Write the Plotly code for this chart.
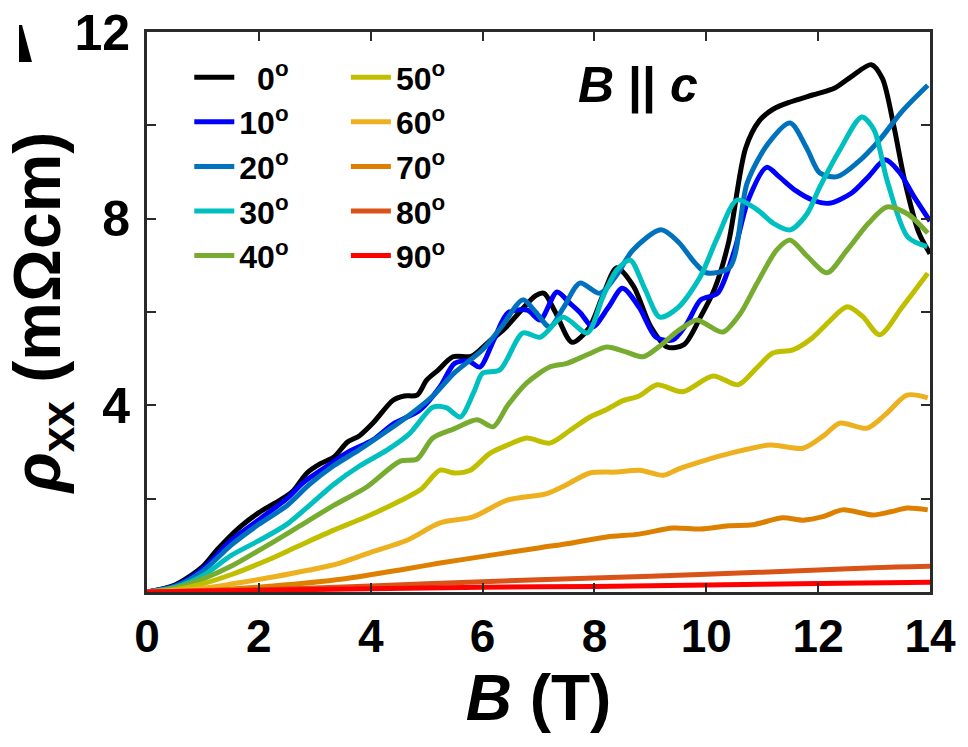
import plotly.graph_objects as go

# Magnetic field (T) and longitudinal resistivity rho_xx (mOhm cm) for each tilt angle
B_0 = [0, 0.5, 1.0, 1.25, 1.66, 2.0, 2.38, 2.6, 2.86, 3.1, 3.35, 3.58, 3.8, 4.04, 4.4, 4.6, 4.83, 5.0, 5.2,
       5.47, 5.8, 6.1, 6.4, 6.7, 6.95, 7.1, 7.3, 7.6, 7.9, 8.15, 8.4, 8.7, 9.0, 9.3, 9.6, 9.9, 10.15, 10.4,
       10.7, 10.95, 11.2, 11.5, 11.9, 12.3, 12.6, 12.95, 13.15, 13.35, 13.55, 13.8, 14.0]
rho_0 = [0, 0.15, 0.55, 0.9, 1.39, 1.7, 1.97, 2.15, 2.55, 2.75, 2.9, 3.21, 3.35, 3.62, 4.11, 4.2, 4.22, 4.54,
         4.75, 5.04, 5.05, 5.35, 5.65, 6.05, 6.35, 6.4, 6.0, 5.35, 5.65, 6.35, 6.95, 6.55, 5.7, 5.25, 5.3, 5.9,
         6.5, 7.5, 9.5, 10.1, 10.35, 10.5, 10.65, 10.8, 11.05, 11.3, 11.0, 10.0, 8.8, 7.7, 7.25]

B_10 = [0, 0.5, 1.0, 1.5, 2.0, 2.5, 2.8, 3.2, 3.6, 4.04, 4.4, 4.88, 5.24, 5.5, 5.75, 5.95, 6.2, 6.45, 6.8,
        7.03, 7.33, 7.55, 7.75, 7.97, 8.25, 8.5, 8.8, 9.1, 9.4, 9.65, 9.9, 10.2, 10.5, 10.75, 11.08, 11.3,
        11.6, 11.9, 12.2, 12.6, 12.9, 13.2, 13.45, 13.7, 14.0]
rho_10 = [0, 0.13, 0.5, 1.1, 1.55, 2.0, 2.35, 2.68, 3.0, 3.26, 3.6, 3.9, 4.4, 4.9, 4.95, 4.82, 5.4, 5.98,
          6.04, 5.83, 6.43, 6.2, 5.98, 5.68, 6.1, 6.51, 6.1, 5.46, 5.4, 5.75, 6.26, 6.4, 7.3, 8.4, 9.1, 8.9,
          8.6, 8.4, 8.33, 8.55, 8.9, 9.26, 9.0, 8.5, 7.95]

B_20 = [0, 0.5, 1.0, 1.5, 2.0, 2.5, 2.9, 3.33, 3.8, 4.29, 4.7, 5.11, 5.5, 6.0, 6.35, 6.72, 6.95, 7.2, 7.45,
        7.74, 8.1, 8.4, 8.69, 9.19, 9.5, 9.8, 10.0, 10.42, 10.73, 11.1, 11.5, 11.8, 12.03, 12.34, 12.7, 13.1,
        13.5, 13.96]
rho_20 = [0, 0.12, 0.45, 1.0, 1.45, 1.85, 2.3, 2.7, 3.05, 3.45, 3.8, 4.2, 4.7, 5.19, 5.7, 6.26, 6.0, 5.68,
          6.1, 6.62, 6.4, 6.8, 7.33, 7.76, 7.5, 7.05, 6.84, 6.96, 8.76, 9.6, 10.05, 9.5, 8.98, 8.9, 9.2, 9.69,
          10.3, 10.86]

B_30 = [0, 0.5, 1.0, 1.5, 2.0, 2.5, 2.9, 3.33, 3.8, 4.29, 4.7, 5.11, 5.35, 5.6, 5.85, 6.0, 6.31, 6.72, 7.03,
        7.44, 7.87, 8.15, 8.4, 8.64, 8.9, 9.17, 9.5, 9.89, 10.2, 10.55, 10.9, 11.2, 11.5, 11.8, 12.03, 12.4,
        12.78, 13.0, 13.23, 13.6, 13.95]
rho_30 = [0, 0.1, 0.35, 0.78, 1.1, 1.45, 1.85, 2.3, 2.7, 3.04, 3.4, 3.96, 3.95, 3.75, 4.3, 4.69, 4.76, 5.55,
          5.46, 5.89, 5.55, 6.32, 6.9, 7.11, 6.5, 5.89, 6.1, 6.75, 7.6, 8.4, 8.2, 7.9, 7.76, 8.1, 8.68, 9.5,
          10.18, 9.9, 8.83, 7.61, 7.4]

B_40 = [0, 0.5, 1.0, 1.5, 1.84, 2.3, 2.74, 3.33, 3.93, 4.52, 4.83, 5.11, 5.5, 5.9, 6.19, 6.45, 6.79, 7.2,
        7.51, 7.9, 8.22, 8.55, 8.87, 9.2, 9.5, 9.83, 10.05, 10.3, 10.6, 10.9, 11.26, 11.5, 11.8, 12.16, 12.5,
        12.9, 13.23, 13.6, 13.96]
rho_40 = [0, 0.08, 0.28, 0.55, 0.78, 1.1, 1.42, 1.85, 2.25, 2.8, 2.85, 3.3, 3.5, 3.69, 3.54, 4.0, 4.48, 4.82,
          4.9, 5.1, 5.25, 5.15, 5.04, 5.3, 5.6, 5.83, 5.7, 5.57, 5.95, 6.6, 7.33, 7.54, 7.2, 6.84, 7.3, 7.9,
          8.25, 8.1, 7.69]

B_50 = [0, 0.5, 1.0, 1.5, 2.15, 2.7, 3.33, 3.9, 4.52, 4.9, 5.24, 5.5, 5.78, 6.13, 6.45, 6.79, 7.2, 7.55, 7.92,
        8.2, 8.51, 8.8, 9.12, 9.58, 10.12, 10.57, 10.9, 11.19, 11.55, 11.9, 12.2, 12.52, 12.8, 13.1, 13.5,
        13.96]
rho_50 = [0, 0.05, 0.18, 0.37, 0.68, 0.98, 1.32, 1.6, 1.95, 2.2, 2.61, 2.55, 2.61, 2.97, 3.15, 3.3, 3.19, 3.45,
          3.75, 3.9, 4.1, 4.2, 4.44, 4.29, 4.63, 4.44, 4.8, 5.12, 5.19, 5.45, 5.8, 6.11, 5.9, 5.51, 6.1, 6.83]

B_60 = [0, 0.5, 1.0, 1.5, 2.25, 2.9, 3.45, 4.0, 4.65, 5.24, 5.83, 6.44, 7.15, 7.5, 7.92, 8.4, 8.81, 9.23, 9.53,
        9.89, 10.42, 11.14, 11.73, 12.1, 12.39, 12.87, 13.2, 13.59, 13.96]
rho_60 = [0, 0.02, 0.08, 0.17, 0.32, 0.47, 0.62, 0.85, 1.11, 1.48, 1.61, 1.97, 2.11, 2.3, 2.55, 2.57, 2.61,
          2.5, 2.65, 2.79, 2.97, 3.15, 3.08, 3.35, 3.62, 3.51, 3.8, 4.22, 4.16]

B_70 = [0, 1.0, 2.25, 3.5, 4.65, 5.24, 6.1, 7.03, 7.6, 8.22, 8.8, 9.4, 9.9, 10.4, 10.83, 11.37, 11.73, 12.1,
        12.44, 12.98, 13.3, 13.59, 13.96]
rho_70 = [0, 0.03, 0.13, 0.28, 0.5, 0.62, 0.78, 0.95, 1.05, 1.18, 1.24, 1.37, 1.35, 1.42, 1.44, 1.59, 1.54,
          1.62, 1.76, 1.65, 1.72, 1.8, 1.76]

B_80 = [0, 2, 4, 6, 8, 10, 12, 13, 14]
rho_80 = [0, 0.05, 0.13, 0.22, 0.3, 0.38, 0.47, 0.52, 0.55]

B_90 = [0, 2, 4, 6, 8, 10, 12, 14]
rho_90 = [0, 0.04, 0.07, 0.1, 0.12, 0.15, 0.18, 0.21]

angles = [0, 10, 20, 30, 40, 50, 60, 70, 80, 90]
B_sets = [B_0, B_10, B_20, B_30, B_40, B_50, B_60, B_70, B_80, B_90]
rho_sets = [rho_0, rho_10, rho_20, rho_30, rho_40, rho_50, rho_60, rho_70, rho_80, rho_90]
colors = ["#000000", "#0000FF", "#0072BD", "#00BFBF", "#77AC30",
          "#BFBF00", "#EDB120", "#DD8000", "#D95319", "#FF0000"]

x_ticks = [0, 2, 4, 6, 8, 10, 12, 14]
y_ticks = [0, 2, 4, 6, 8, 10, 12]
y_ticktext = ["", "", "4", "", "8", "", "12"]

FONT = "Liberation Sans, Arial, sans-serif"

fig = go.Figure()
for ang, bx, ry, col in zip(angles, B_sets, rho_sets, colors):
    pad = "\u2007" if ang < 10 else ""
    fig.add_trace(go.Scatter(
        x=bx, y=ry, mode="lines",
        line=dict(color=col, width=5, shape="spline", smoothing=0.8),
        name=f"{pad}{ang}<sup>o</sup>",
        legend="legend" if ang < 50 else "legend2",
        hoverinfo="skip",
    ))

axis_common = dict(
    showline=True, mirror="ticks", linecolor="#2a2a2a", linewidth=3,
    ticks="inside", ticklen=9, tickwidth=2, tickcolor="#2a2a2a",
    showgrid=False, zeroline=False, automargin=False,
)

fig.update_layout(
    width=968, height=747,
    margin=dict(l=147, r=38, t=32, b=155, autoexpand=False),
    paper_bgcolor="white", plot_bgcolor="white",
    font=dict(family=FONT, color="black"),
    xaxis=dict(
        range=[0, 14], tickvals=x_ticks,
        tickfont=dict(family=FONT, size=46, weight="bold"),
        ticklabelstandoff=2,
        title=dict(text="<i>B</i> (T)", font=dict(family=FONT, size=64, weight="bold"), standoff=0),
        **axis_common,
    ),
    yaxis=dict(
        range=[0, 12], tickvals=y_ticks, ticktext=y_ticktext,
        tickfont=dict(family=FONT, size=50, weight="bold"),
        ticklabelstandoff=4,
        title=dict(text="<i>ρ</i><sub>xx</sub> (mΩcm)", font=dict(family=FONT, size=66, weight="bold"),
                   standoff=6),
        **axis_common,
    ),
    legend=dict(
        x=0.054, y=0.968, xanchor="left", yanchor="top",
        bgcolor="rgba(0,0,0,0)", borderwidth=0,
        font=dict(family=FONT, size=32, weight="bold"),
        tracegroupgap=0, itemwidth=40,
    ),
    legend2=dict(
        x=0.254, y=0.968, xanchor="left", yanchor="top",
        bgcolor="rgba(0,0,0,0)", borderwidth=0,
        font=dict(family=FONT, size=32, weight="bold"),
        tracegroupgap=0, itemwidth=40,
    ),
    showlegend=True,
)

# field orientation label
fig.add_annotation(
    x=0.627, y=0.905, xref="paper", yref="paper", xanchor="center", yanchor="middle",
    text="<i>B</i> || <i>c</i>", showarrow=False,
    font=dict(family=FONT, size=50, weight="bold", color="black"),
)

# clipped panel letter stroke at the upper-left corner
def px_to_paper(px, py):
    return (px - 147) / 783, (592 - py) / 560

pts = [px_to_paper(19, 25), px_to_paper(22, 25), px_to_paper(32, 62), px_to_paper(19, 62)]
path = "M " + " L ".join(f"{a:.4f},{b:.4f}" for a, b in pts) + " Z"
fig.add_shape(type="path", path=path, xref="paper", yref="paper",
              fillcolor="black", line=dict(width=0), layer="above")

fig.write_html("out.html")
